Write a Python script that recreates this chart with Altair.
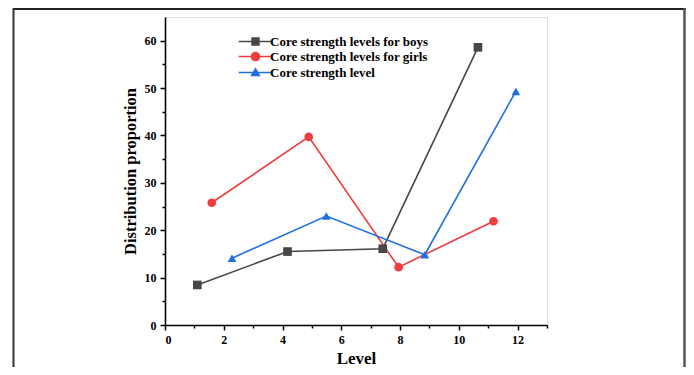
import altair as alt
import pandas as pd

series_names = ["Core strength levels for boys", "Core strength levels for girls", "Core strength level"]
boys_x = [1.10, 4.17, 7.41, 10.65]
boys_y = [8.45, 15.5, 16.1, 58.6]
girls_x = [1.59, 4.89, 7.95, 11.18]
girls_y = [25.8, 39.7, 12.2, 21.9]
level_x = [2.28, 5.49, 8.84, 11.94]
level_y = [14.1, 23.0, 14.85, 49.3]

colors = ["#474747", "#f03c3c", "#1f6fe0"]
shapes = ["square", "circle", "triangle-up"]
# legend glyphs: a short line with the marker in the middle
legend_shapes = [
    "M-4.2,-0.2L4.2,-0.2L4.2,0.2L-4.2,0.2ZM-1.05,-1.05L1.05,-1.05L1.05,1.05L-1.05,1.05Z",
    "M-4.2,-0.2L4.2,-0.2L4.2,0.2L-4.2,0.2ZM-1.2,0A1.2,1.2,0,1,1,1.2,0A1.2,1.2,0,1,1,-1.2,0Z",
    "M-4.2,-0.2L4.2,-0.2L4.2,0.2L-4.2,0.2ZM0,-1.3L1.3,0.95L-1.3,0.95Z",
]
x_major = [0, 2, 4, 6, 8, 10, 12]
x_minor = [1, 3, 5, 7, 9, 11, 13]
y_major = [0, 10, 20, 30, 40, 50, 60]
y_minor = [5, 15, 25, 35, 45, 55]

rows = []
for name, xs, ys in zip(series_names, [boys_x, girls_x, level_x], [boys_y, girls_y, level_y]):
    for i, (a, b) in enumerate(zip(xs, ys)):
        rows.append({"series": name, "level": a, "value": b, "order": i})
df = pd.DataFrame(rows)

FONT = "Liberation Serif"
xs = alt.Scale(domain=[0, 13], nice=False, zero=False)
ys = alt.Scale(domain=[0, 65], nice=False, zero=False)
cscale = alt.Scale(domain=series_names, range=colors)

base = alt.Chart(df)

lines = base.mark_line(strokeWidth=1.6).encode(
    x=alt.X("level:Q", scale=xs, axis=alt.Axis(
        values=x_major, tickSize=5, tickWidth=1.5, domainWidth=1.6, domainColor="black",
        tickColor="black", labelFont=FONT, labelFontWeight="bold", labelFontSize=12,
        labelColor="black", labelPadding=4, grid=False, title="Level", titleFont=FONT,
        titleFontSize=17, titleFontWeight="bold", titleColor="black", titlePadding=5,
        orient="bottom")),
    y=alt.Y("value:Q", scale=ys, axis=alt.Axis(
        values=y_major, tickSize=5, tickWidth=1.5, domainWidth=1.6, domainColor="black",
        tickColor="black", labelFont=FONT, labelFontWeight="bold", labelFontSize=12,
        labelColor="black", labelPadding=4, grid=False, title="Distribution proportion",
        titleFont=FONT, titleFontSize=16.5, titleFontWeight="bold", titleColor="black",
        titlePadding=6, orient="left")),
    color=alt.Color("series:N", scale=cscale, legend=None),
    detail="series:N",
    order="order:Q",
)

points = base.mark_point(filled=True, size=75, opacity=1).encode(
    x=alt.X("level:Q", scale=xs, axis=alt.Axis(
        values=x_minor, tickSize=3, tickWidth=1.5, labels=False, domain=False,
        tickColor="black", grid=False, title=None, orient="bottom")),
    y=alt.Y("value:Q", scale=ys, axis=alt.Axis(
        values=y_minor, tickSize=3, tickWidth=1.5, labels=False, domain=False,
        tickColor="black", grid=False, title=None, orient="left")),
    color=alt.Color("series:N", scale=cscale, legend=None),
    shape=alt.Shape("series:N", scale=alt.Scale(domain=series_names, range=shapes), legend=None),
)

leg = dict(
    title=None, orient="none", legendX=84, legendY=18, symbolSize=64,
    symbolOpacity=1, labelFont=FONT, labelFontWeight="bold", labelFontSize=13,
    labelColor="black", labelOffset=8, rowPadding=-1, padding=0,
)

legend_layer = base.transform_filter("datum.value < 0").mark_point(
    filled=True, size=64, opacity=1
).encode(
    x=alt.X("level:Q", scale=xs, axis=None),
    y=alt.Y("value:Q", scale=ys, axis=None),
    color=alt.Color("series:N", scale=alt.Scale(domain=series_names, range=colors),
                    legend=alt.Legend(**leg)),
    shape=alt.Shape("series:N", scale=alt.Scale(domain=series_names, range=legend_shapes),
                    legend=alt.Legend(**leg)),
)

frame_df = pd.DataFrame({"k": [0]})
fb = alt.Chart(frame_df)
top_rule = fb.mark_rule(color="#222222", strokeWidth=2).encode(
    x=alt.value(-152), x2=alt.value(521), y=alt.value(-8))
left_rule = fb.mark_rule(color="#333333", strokeWidth=2).encode(
    x=alt.value(-151.5), y=alt.value(-9), y2=alt.value(360))
right_rule = fb.mark_rule(color="#555555", strokeWidth=2.5).encode(
    x=alt.value(519.5), y=alt.value(-9), y2=alt.value(360))

chart = alt.layer(lines, points, legend_layer, top_rule, left_rule, right_rule).resolve_scale(
    shape="independent", color="independent"
).resolve_axis(
    x="independent", y="independent"
).properties(
    width=382, height=308,
    autosize=alt.AutoSizeParams(type="none"),
    padding={"left": 157, "top": 9, "right": 139, "bottom": 42},
).configure_view(
    stroke="black", strokeWidth=1.6
).configure(background="white")

chart.save("out.html", embed_options={"renderer": "svg", "actions": False})
